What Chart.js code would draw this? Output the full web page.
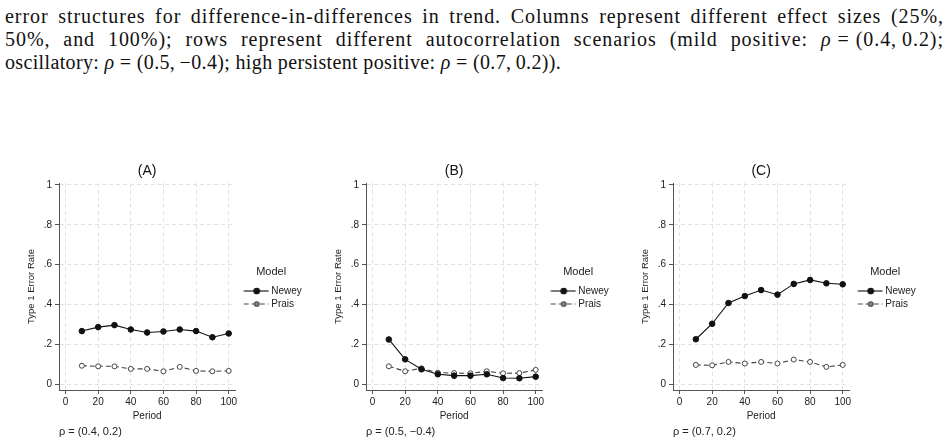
<!DOCTYPE html>
<html>
<head>
<meta charset="utf-8">
<script src="https://cdn.jsdelivr.net/npm/chart.js@4.4.1/dist/chart.umd.min.js"></script>
<style>
  body { margin: 0; width: 946px; height: 443px; background: #fff; position: relative; overflow: hidden; }
  .cap { position: absolute; left: 5px; width: 939px; font-family: 'Liberation Serif', 'Times New Roman', serif;
         font-size: 20px; letter-spacing: 0.35px; line-height: 23px; color: #111; white-space: nowrap; }
  .just { text-align: justify; text-align-last: justify; white-space: normal; letter-spacing: 0.95px; }
  .nb { display: inline-block; }
  canvas { position: absolute; top: 150px; }
</style>
</head>
<body>
<div class="cap just" style="top:5px">error structures for difference-in-differences in trend. Columns represent different effect sizes (25%,</div>
<div class="cap just" style="top:28px">50%, and 100%); rows represent different autocorrelation scenarios (mild positive: <span class="nb"><i>ρ</i> = (0.4,&#8201;0.2);</span></div>
<div class="cap" style="top:51px">oscillatory: <i>ρ</i> = (0.5,&#8201;−0.4); high persistent positive: <i>ρ</i> = (0.7,&#8201;0.2)).</div>

<canvas id="panelA" width="307" height="293" style="left:0px"></canvas>
<canvas id="panelB" width="307" height="293" style="left:307px"></canvas>
<canvas id="panelC" width="307" height="293" style="left:614px"></canvas>

<script>
// values
const periods = [10, 20, 30, 40, 50, 60, 70, 80, 90, 100];
const neweyA = [0.266, 0.286, 0.296, 0.274, 0.259, 0.264, 0.274, 0.266, 0.235, 0.254];
const praisA = [0.092, 0.089, 0.089, 0.076, 0.076, 0.064, 0.086, 0.066, 0.064, 0.066];
const neweyB = [0.224, 0.124, 0.074, 0.049, 0.042, 0.042, 0.049, 0.030, 0.029, 0.037];
const praisB = [0.089, 0.064, 0.079, 0.057, 0.055, 0.054, 0.064, 0.054, 0.055, 0.071];
const neweyC = [0.225, 0.303, 0.407, 0.442, 0.472, 0.449, 0.503, 0.523, 0.506, 0.501];
const praisC = [0.096, 0.094, 0.111, 0.103, 0.111, 0.103, 0.123, 0.111, 0.086, 0.096];

const xTicks = [0, 20, 40, 60, 80, 100];
const yTicks = [0, 0.2, 0.4, 0.6, 0.8, 1];
const yTickLabels = ['0', '.2', '.4', '.6', '.8', '1'];
const seriesNames = ['Newey', 'Prais'];

Chart.defaults.font.family = "'Liberation Sans', Arial, sans-serif";
Chart.defaults.color = '#222';

// little line+marker pictures for the legend
function makeIcon(dashed) {
  const c = document.createElement('canvas');
  c.width = 34; c.height = 10;
  const g = c.getContext('2d');
  g.strokeStyle = dashed ? '#444' : '#111';
  g.lineWidth = 1.1;
  if (dashed) g.setLineDash([5, 3]);
  g.beginPath(); g.moveTo(8.5, 5); g.lineTo(33.5, 5); g.stroke();
  g.setLineDash([]);
  g.beginPath(); g.arc(21.5, 5, dashed ? 2.3 : 2.8, 0, Math.PI * 2);
  g.fillStyle = dashed ? '#888' : '#111';
  g.fill(); g.stroke();
  return c;
}
const legendIcons = [makeIcon(false), makeIcon(true)];

function pts(vals) {
  return periods.map((p, i) => ({ x: p, y: vals[i] }));
}

function makePanel(id, title, note, newey, prais) {
  new Chart(document.getElementById(id), {
    type: 'line',
    data: {
      datasets: [
        { label: seriesNames[0], data: pts(newey), borderColor: '#111', borderWidth: 1.1,
          pointRadius: 2.8, pointBackgroundColor: '#111', pointBorderColor: '#111', pointBorderWidth: 1, tension: 0 },
        { label: seriesNames[1], data: pts(prais), borderColor: '#444', borderWidth: 1.1, borderDash: [5, 3],
          pointRadius: 2.5, pointBackgroundColor: '#fff', pointBorderColor: '#444', pointBorderWidth: 1, tension: 0 }
      ]
    },
    options: {
      responsive: false,
      animation: false,
      events: [],
      layout: { padding: { left: 20, right: 0, top: 0, bottom: 4.8 } },
      scales: {
        x: {
          type: 'linear', min: -4, max: 104,
          afterBuildTicks: s => { s.ticks = xTicks.map(v => ({ value: v })); },
          grid: { color: '#e2e2e2', tickColor: '#555', tickLength: 4 },
          border: { color: '#555', width: 1, dash: [4, 3] },
          ticks: { padding: 2, font: { size: 10 }, maxRotation: 0, autoSkip: false },
          title: { display: true, text: 'Period', font: { size: 10 }, padding: { top: 0, bottom: 0 } }
        },
        y: {
          min: -0.03, max: 1.01,
          afterBuildTicks: s => { s.ticks = yTicks.map(v => ({ value: v })); },
          afterFit: s => { s.width = 39; },
          grid: { color: '#e2e2e2', tickColor: '#555', tickLength: 4 },
          border: { color: '#555', width: 1, dash: [4, 3] },
          ticks: { padding: 3, font: { size: 10 }, callback: (v, i) => yTickLabels[i] },
          title: { display: true, text: 'Type 1 Error Rate', font: { size: 9.5 }, padding: { top: 6, bottom: 0 } }
        }
      },
      plugins: {
        title: { display: true, text: title, fullSize: false, color: '#111',
                 font: { size: 14, weight: 'normal' }, padding: { top: 12.6, bottom: 3.6 } },
        subtitle: { display: true, text: note, position: 'bottom', align: 'start', fullSize: false,
                    font: { size: 11 }, padding: { top: 3, bottom: 0 } },
        legend: {
          position: 'right', align: 'start',
          title: { display: true, text: 'Model', font: { size: 11 }, padding: { top: 116.5, bottom: 3.3 } },
          labels: {
            usePointStyle: true, pointStyleWidth: 28, padding: 3, font: { size: 10 },
            generateLabels: () => seriesNames.map((name, i) => ({
              text: name, pointStyle: legendIcons[i], fillStyle: '#000', strokeStyle: '#000',
              lineWidth: 0, fontColor: '#222', hidden: false, datasetIndex: i
            }))
          }
        },
        tooltip: { enabled: false }
      }
    }
  });
}

makePanel('panelA', '(A)', 'ρ = (0.4, 0.2)', neweyA, praisA);
makePanel('panelB', '(B)', 'ρ = (0.5, −0.4)', neweyB, praisB);
makePanel('panelC', '(C)', 'ρ = (0.7, 0.2)', neweyC, praisC);
</script>
</body>
</html>
